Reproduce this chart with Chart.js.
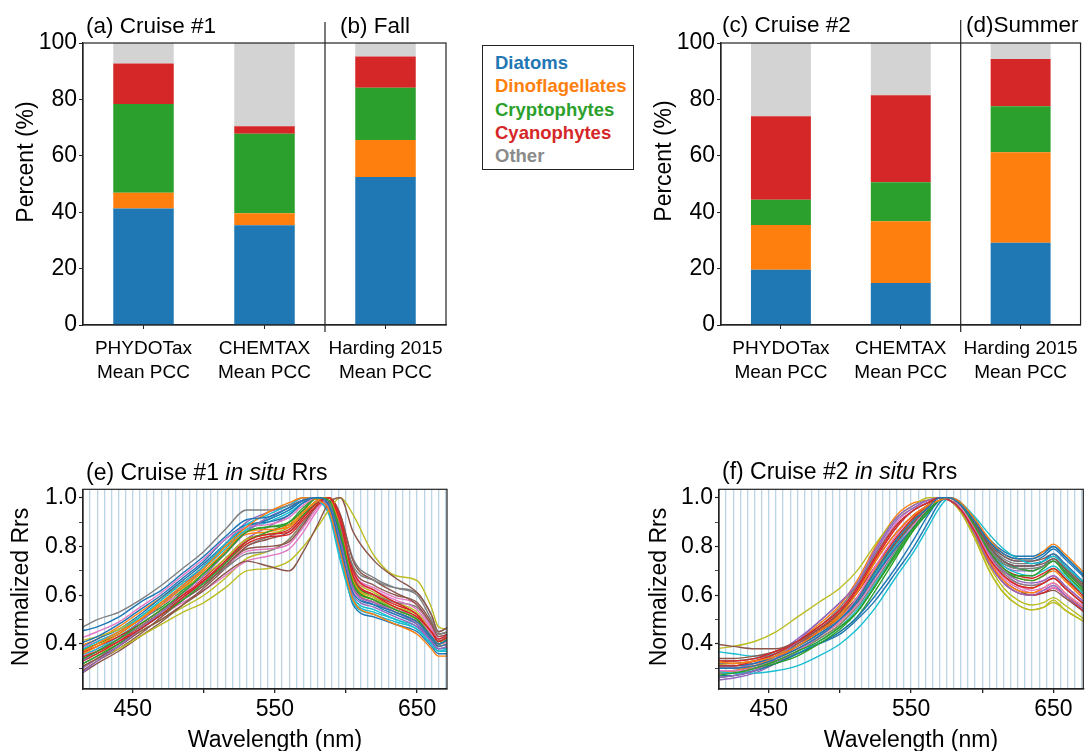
<!DOCTYPE html>
<html>
<head>
<meta charset="utf-8">
<script src="https://cdn.jsdelivr.net/npm/chart.js@4.4.1/dist/chart.umd.min.js"></script>
<style>
    body { margin: 0; background: #fff; width: 1086px; height: 751px; position: relative; overflow: hidden; font-family: "Liberation Sans", Arial, sans-serif; }
    canvas { position: absolute; }
    #legend { position: absolute; left: 482px; top: 45px; width: 152px; height: 125px; border: 1px solid #222; padding: 5px 0 0 12px; box-sizing: border-box; }
    #legend div { font-weight: bold; font-size: 18.5px; line-height: 23.3px; white-space: nowrap; }
</style>
</head>
<body>
<canvas id="cruise1" width="470" height="400" style="left:0;top:0"></canvas>
<canvas id="cruise2" width="446" height="400" style="left:640px;top:0"></canvas>
<canvas id="rrs1" width="470" height="301" style="left:0;top:450px"></canvas>
<canvas id="rrs2" width="446" height="301" style="left:640px;top:450px"></canvas>
<div id="legend"></div>
<script>
// stacked bars, percent of total
const barCategories = [["PHYDOTax", "Mean PCC"], ["CHEMTAX", "Mean PCC"], ["Harding 2015", "Mean PCC"]];
const groupNames = ["Diatoms", "Dinoflagellates", "Cryptophytes", "Cyanophytes", "Other"];

const cruise1Diatoms = [41.3, 35.4, 52.5];
const cruise1Dinoflagellates = [5.6, 4.2, 13.1];
const cruise1Cryptophytes = [31.5, 28.2, 18.5];
const cruise1Cyanophytes = [14.3, 2.7, 11.1];
const cruise1Other = [7.3, 29.5, 4.8];

const cruise2Diatoms = [19.6, 14.9, 29.2];
const cruise2Dinoflagellates = [15.9, 21.9, 32.1];
const cruise2Cryptophytes = [8.9, 13.8, 16.3];
const cruise2Cyanophytes = [29.6, 30.9, 16.7];
const cruise2Other = [26.0, 18.5, 5.7];

const percentTicks = [0, 20, 40, 60, 80, 100];
const wavelengthLabels = [450, 550, 650];
const rrsTickLabels = [0.4, 0.6, 0.8, 1.0];

// normalized Rrs spectra
const cruise1Wavelengths = [412, 425, 440, 455, 470, 485, 500, 515, 530, 545, 560, 570, 580, 588, 596, 605, 620, 635, 650, 660, 665, 672];
const cruise1Rrs = [
    [0.45, 0.47, 0.51, 0.57, 0.62, 0.69, 0.76, 0.84, 0.91, 0.92, 0.96, 0.99, 1.00, 0.97, 0.80, 0.61, 0.56, 0.53, 0.49, 0.43, 0.40, 0.42],
    [0.36, 0.40, 0.45, 0.50, 0.57, 0.64, 0.71, 0.80, 0.88, 0.94, 0.98, 1.00, 0.99, 0.95, 0.78, 0.58, 0.52, 0.48, 0.44, 0.38, 0.35, 0.35],
    [0.33, 0.37, 0.42, 0.48, 0.54, 0.61, 0.69, 0.77, 0.86, 0.88, 0.90, 0.95, 1.00, 0.99, 0.86, 0.65, 0.58, 0.54, 0.50, 0.43, 0.40, 0.42],
    [0.34, 0.37, 0.41, 0.46, 0.52, 0.59, 0.66, 0.74, 0.82, 0.85, 0.86, 0.92, 0.98, 1.00, 0.90, 0.68, 0.60, 0.55, 0.51, 0.45, 0.41, 0.43],
    [0.27, 0.33, 0.39, 0.46, 0.53, 0.61, 0.68, 0.77, 0.86, 0.92, 0.96, 0.99, 1.00, 0.96, 0.82, 0.63, 0.57, 0.53, 0.48, 0.41, 0.38, 0.39],
    [0.30, 0.34, 0.39, 0.45, 0.50, 0.56, 0.62, 0.69, 0.74, 0.72, 0.70, 0.78, 0.89, 0.98, 1.00, 0.86, 0.74, 0.67, 0.61, 0.52, 0.45, 0.47],
    [0.42, 0.45, 0.49, 0.55, 0.61, 0.68, 0.75, 0.83, 0.88, 0.89, 0.92, 0.97, 1.00, 0.97, 0.81, 0.62, 0.57, 0.54, 0.51, 0.44, 0.40, 0.41],
    [0.46, 0.50, 0.53, 0.58, 0.64, 0.71, 0.78, 0.87, 0.95, 0.95, 0.97, 0.99, 1.00, 0.98, 0.88, 0.72, 0.66, 0.63, 0.61, 0.52, 0.45, 0.47],
    [0.30, 0.34, 0.38, 0.43, 0.48, 0.53, 0.57, 0.63, 0.70, 0.71, 0.74, 0.80, 0.88, 0.95, 1.00, 0.93, 0.76, 0.68, 0.66, 0.55, 0.47, 0.46],
    [0.37, 0.41, 0.45, 0.51, 0.58, 0.65, 0.72, 0.81, 0.89, 0.93, 0.97, 1.00, 0.99, 0.93, 0.74, 0.57, 0.52, 0.49, 0.46, 0.40, 0.37, 0.38],
    [0.40, 0.43, 0.48, 0.54, 0.60, 0.67, 0.74, 0.83, 0.89, 0.90, 0.93, 0.98, 1.00, 0.98, 0.83, 0.63, 0.56, 0.52, 0.48, 0.42, 0.39, 0.40],
    [0.35, 0.39, 0.44, 0.50, 0.56, 0.63, 0.70, 0.78, 0.86, 0.87, 0.88, 0.94, 0.99, 1.00, 0.88, 0.66, 0.58, 0.54, 0.50, 0.43, 0.40, 0.41],
    [0.31, 0.35, 0.40, 0.46, 0.52, 0.58, 0.65, 0.73, 0.82, 0.86, 0.90, 0.96, 1.00, 0.98, 0.84, 0.64, 0.58, 0.54, 0.50, 0.44, 0.41, 0.43],
    [0.36, 0.39, 0.43, 0.48, 0.54, 0.60, 0.66, 0.73, 0.81, 0.84, 0.85, 0.91, 0.97, 1.00, 0.92, 0.70, 0.62, 0.57, 0.52, 0.45, 0.42, 0.44],
    [0.32, 0.37, 0.42, 0.49, 0.56, 0.64, 0.72, 0.81, 0.90, 0.94, 0.97, 1.00, 0.99, 0.94, 0.77, 0.60, 0.55, 0.51, 0.47, 0.41, 0.38, 0.39],
    [0.28, 0.33, 0.38, 0.44, 0.51, 0.58, 0.64, 0.72, 0.79, 0.80, 0.82, 0.89, 0.97, 1.00, 0.93, 0.74, 0.66, 0.61, 0.56, 0.48, 0.43, 0.44],
    [0.38, 0.41, 0.45, 0.50, 0.56, 0.61, 0.66, 0.72, 0.78, 0.79, 0.81, 0.88, 0.96, 1.00, 0.90, 0.69, 0.62, 0.58, 0.54, 0.46, 0.42, 0.43],
    [0.33, 0.37, 0.42, 0.47, 0.53, 0.59, 0.65, 0.71, 0.77, 0.78, 0.83, 0.90, 0.97, 1.00, 0.93, 0.75, 0.67, 0.63, 0.60, 0.50, 0.44, 0.45],
    [0.41, 0.43, 0.46, 0.51, 0.57, 0.63, 0.68, 0.75, 0.83, 0.85, 0.88, 0.94, 0.99, 1.00, 0.87, 0.66, 0.59, 0.55, 0.52, 0.45, 0.41, 0.42],
    [0.35, 0.38, 0.43, 0.49, 0.56, 0.63, 0.71, 0.80, 0.87, 0.90, 0.94, 0.98, 1.00, 0.95, 0.76, 0.58, 0.53, 0.50, 0.46, 0.40, 0.37, 0.37],
    [0.38, 0.42, 0.46, 0.52, 0.59, 0.66, 0.73, 0.81, 0.88, 0.91, 0.95, 0.99, 1.00, 0.96, 0.78, 0.56, 0.51, 0.48, 0.45, 0.39, 0.36, 0.36],
    [0.39, 0.42, 0.47, 0.53, 0.59, 0.65, 0.72, 0.80, 0.85, 0.86, 0.89, 0.95, 1.00, 0.99, 0.85, 0.64, 0.57, 0.53, 0.49, 0.43, 0.39, 0.40],
    [0.37, 0.40, 0.44, 0.50, 0.55, 0.62, 0.69, 0.78, 0.86, 0.88, 0.89, 0.93, 0.98, 1.00, 0.89, 0.67, 0.59, 0.55, 0.51, 0.44, 0.40, 0.42],
    [0.32, 0.36, 0.41, 0.47, 0.53, 0.60, 0.67, 0.75, 0.83, 0.85, 0.87, 0.93, 0.99, 1.00, 0.88, 0.67, 0.60, 0.56, 0.52, 0.44, 0.40, 0.42],
    [0.29, 0.34, 0.40, 0.46, 0.52, 0.59, 0.66, 0.74, 0.83, 0.88, 0.93, 0.98, 1.00, 0.97, 0.83, 0.63, 0.57, 0.53, 0.49, 0.42, 0.39, 0.40],
    [0.27, 0.32, 0.37, 0.43, 0.49, 0.56, 0.63, 0.71, 0.80, 0.83, 0.86, 0.92, 0.98, 1.00, 0.90, 0.71, 0.64, 0.60, 0.57, 0.49, 0.44, 0.45],
    [0.34, 0.38, 0.42, 0.47, 0.52, 0.57, 0.62, 0.68, 0.74, 0.76, 0.79, 0.86, 0.95, 1.00, 0.91, 0.70, 0.63, 0.59, 0.56, 0.47, 0.43, 0.44],
    [0.31, 0.35, 0.40, 0.46, 0.52, 0.58, 0.64, 0.72, 0.80, 0.84, 0.88, 0.94, 0.99, 1.00, 0.87, 0.66, 0.60, 0.57, 0.55, 0.47, 0.42, 0.43],
    [0.33, 0.36, 0.40, 0.45, 0.50, 0.55, 0.60, 0.67, 0.75, 0.78, 0.83, 0.90, 0.97, 1.00, 0.90, 0.69, 0.61, 0.57, 0.53, 0.45, 0.41, 0.43],
    [0.36, 0.40, 0.45, 0.51, 0.57, 0.64, 0.71, 0.79, 0.87, 0.91, 0.95, 0.99, 1.00, 0.96, 0.78, 0.59, 0.54, 0.50, 0.47, 0.41, 0.38, 0.38]
];

const cruise2Wavelengths = [412, 425, 440, 455, 470, 485, 500, 512, 525, 540, 552, 562, 570, 577, 585, 595, 605, 615, 625, 635, 643, 650, 658, 672];
const cruise2Rrs = [
    [0.30, 0.30, 0.31, 0.34, 0.38, 0.43, 0.50, 0.58, 0.70, 0.83, 0.91, 0.96, 1.00, 1.00, 0.97, 0.90, 0.82, 0.77, 0.75, 0.75, 0.77, 0.80, 0.76, 0.68],
    [0.33, 0.32, 0.33, 0.35, 0.39, 0.45, 0.52, 0.61, 0.74, 0.86, 0.93, 0.97, 0.99, 1.00, 0.98, 0.91, 0.83, 0.77, 0.75, 0.75, 0.78, 0.81, 0.77, 0.69],
    [0.27, 0.28, 0.30, 0.33, 0.37, 0.41, 0.47, 0.53, 0.64, 0.78, 0.88, 0.95, 0.99, 1.00, 0.97, 0.88, 0.78, 0.71, 0.68, 0.68, 0.71, 0.74, 0.70, 0.62],
    [0.31, 0.31, 0.33, 0.36, 0.41, 0.47, 0.54, 0.63, 0.76, 0.89, 0.95, 0.98, 1.00, 0.99, 0.95, 0.86, 0.75, 0.68, 0.64, 0.63, 0.65, 0.67, 0.63, 0.56],
    [0.26, 0.27, 0.29, 0.34, 0.41, 0.49, 0.57, 0.65, 0.79, 0.92, 0.97, 0.99, 1.00, 0.99, 0.95, 0.85, 0.73, 0.65, 0.61, 0.60, 0.62, 0.64, 0.60, 0.54],
    [0.40, 0.39, 0.38, 0.38, 0.41, 0.46, 0.53, 0.61, 0.74, 0.86, 0.93, 0.97, 1.00, 1.00, 0.97, 0.89, 0.80, 0.74, 0.72, 0.72, 0.73, 0.75, 0.71, 0.63],
    [0.29, 0.29, 0.30, 0.33, 0.37, 0.43, 0.50, 0.59, 0.72, 0.85, 0.93, 0.97, 1.00, 1.00, 0.96, 0.87, 0.76, 0.68, 0.64, 0.62, 0.63, 0.65, 0.61, 0.55],
    [0.32, 0.32, 0.33, 0.36, 0.41, 0.47, 0.55, 0.64, 0.77, 0.89, 0.95, 0.98, 1.00, 0.99, 0.96, 0.88, 0.79, 0.73, 0.71, 0.71, 0.72, 0.74, 0.70, 0.62],
    [0.38, 0.39, 0.41, 0.45, 0.51, 0.57, 0.63, 0.70, 0.81, 0.92, 0.97, 1.00, 1.00, 0.99, 0.94, 0.83, 0.70, 0.61, 0.56, 0.54, 0.55, 0.57, 0.54, 0.49],
    [0.29, 0.28, 0.28, 0.29, 0.31, 0.35, 0.40, 0.46, 0.55, 0.68, 0.78, 0.88, 0.96, 1.00, 0.98, 0.92, 0.85, 0.79, 0.75, 0.73, 0.74, 0.76, 0.72, 0.65],
    [0.31, 0.31, 0.32, 0.35, 0.39, 0.44, 0.50, 0.57, 0.68, 0.80, 0.88, 0.95, 0.99, 1.00, 0.97, 0.89, 0.80, 0.74, 0.72, 0.72, 0.74, 0.77, 0.73, 0.65],
    [0.28, 0.29, 0.31, 0.35, 0.41, 0.48, 0.56, 0.66, 0.80, 0.93, 0.98, 0.99, 1.00, 0.99, 0.95, 0.86, 0.74, 0.66, 0.62, 0.61, 0.63, 0.65, 0.61, 0.54],
    [0.29, 0.29, 0.30, 0.32, 0.35, 0.40, 0.46, 0.53, 0.64, 0.77, 0.87, 0.94, 0.99, 1.00, 0.97, 0.89, 0.79, 0.73, 0.71, 0.70, 0.72, 0.74, 0.69, 0.61],
    [0.33, 0.33, 0.34, 0.37, 0.41, 0.46, 0.53, 0.61, 0.72, 0.84, 0.92, 0.97, 1.00, 0.99, 0.96, 0.88, 0.78, 0.71, 0.68, 0.67, 0.69, 0.71, 0.67, 0.59],
    [0.30, 0.30, 0.32, 0.36, 0.42, 0.49, 0.57, 0.64, 0.78, 0.91, 0.96, 0.99, 1.00, 1.00, 0.96, 0.87, 0.77, 0.70, 0.66, 0.65, 0.66, 0.68, 0.64, 0.57],
    [0.34, 0.34, 0.35, 0.37, 0.41, 0.46, 0.52, 0.59, 0.70, 0.82, 0.90, 0.96, 1.00, 1.00, 0.97, 0.90, 0.81, 0.76, 0.74, 0.74, 0.75, 0.77, 0.72, 0.64],
    [0.31, 0.31, 0.32, 0.34, 0.38, 0.43, 0.49, 0.56, 0.67, 0.80, 0.89, 0.96, 1.00, 1.00, 0.96, 0.86, 0.75, 0.67, 0.63, 0.61, 0.62, 0.63, 0.60, 0.54],
    [0.28, 0.28, 0.30, 0.33, 0.37, 0.42, 0.48, 0.55, 0.66, 0.79, 0.88, 0.95, 0.99, 1.00, 0.96, 0.87, 0.76, 0.69, 0.65, 0.64, 0.65, 0.67, 0.63, 0.56],
    [0.30, 0.30, 0.31, 0.34, 0.38, 0.43, 0.50, 0.58, 0.70, 0.83, 0.92, 0.97, 1.00, 0.99, 0.94, 0.83, 0.70, 0.61, 0.56, 0.54, 0.55, 0.58, 0.54, 0.49],
    [0.37, 0.36, 0.35, 0.36, 0.39, 0.44, 0.50, 0.58, 0.69, 0.81, 0.90, 0.96, 1.00, 1.00, 0.97, 0.89, 0.79, 0.72, 0.69, 0.68, 0.70, 0.72, 0.68, 0.60],
    [0.27, 0.27, 0.29, 0.32, 0.36, 0.40, 0.45, 0.51, 0.60, 0.72, 0.83, 0.93, 0.99, 1.00, 0.98, 0.91, 0.82, 0.76, 0.74, 0.74, 0.76, 0.79, 0.75, 0.67],
    [0.32, 0.32, 0.33, 0.35, 0.39, 0.44, 0.51, 0.59, 0.71, 0.83, 0.91, 0.97, 1.00, 1.00, 0.96, 0.87, 0.76, 0.68, 0.64, 0.63, 0.65, 0.67, 0.63, 0.56],
    [0.26, 0.27, 0.29, 0.32, 0.36, 0.40, 0.45, 0.51, 0.62, 0.76, 0.87, 0.94, 0.99, 1.00, 0.97, 0.88, 0.77, 0.70, 0.67, 0.66, 0.68, 0.71, 0.67, 0.60],
    [0.29, 0.29, 0.31, 0.34, 0.39, 0.45, 0.53, 0.62, 0.75, 0.88, 0.95, 0.98, 1.00, 0.99, 0.95, 0.85, 0.73, 0.65, 0.61, 0.60, 0.61, 0.63, 0.60, 0.53],
    [0.25, 0.26, 0.28, 0.32, 0.37, 0.43, 0.50, 0.58, 0.70, 0.83, 0.92, 0.97, 1.00, 1.00, 0.96, 0.88, 0.78, 0.72, 0.70, 0.70, 0.72, 0.74, 0.70, 0.62],
    [0.31, 0.31, 0.32, 0.35, 0.40, 0.45, 0.51, 0.58, 0.69, 0.81, 0.90, 0.96, 1.00, 1.00, 0.96, 0.86, 0.74, 0.66, 0.62, 0.60, 0.61, 0.62, 0.59, 0.53],
    [0.30, 0.30, 0.31, 0.34, 0.40, 0.46, 0.54, 0.63, 0.77, 0.90, 0.96, 0.98, 1.00, 0.99, 0.95, 0.86, 0.75, 0.68, 0.65, 0.64, 0.66, 0.68, 0.64, 0.57],
    [0.33, 0.33, 0.34, 0.36, 0.40, 0.45, 0.51, 0.58, 0.69, 0.82, 0.91, 0.97, 1.00, 1.00, 0.97, 0.90, 0.81, 0.75, 0.73, 0.73, 0.74, 0.76, 0.72, 0.64],
    [0.32, 0.31, 0.31, 0.33, 0.37, 0.42, 0.48, 0.56, 0.68, 0.81, 0.90, 0.96, 1.00, 1.00, 0.95, 0.84, 0.72, 0.63, 0.58, 0.56, 0.57, 0.59, 0.56, 0.50],
    [0.28, 0.28, 0.29, 0.32, 0.36, 0.41, 0.47, 0.54, 0.65, 0.78, 0.88, 0.95, 0.99, 1.00, 0.97, 0.89, 0.80, 0.74, 0.71, 0.70, 0.72, 0.75, 0.71, 0.63],
    [0.29, 0.29, 0.30, 0.33, 0.36, 0.40, 0.44, 0.50, 0.58, 0.70, 0.80, 0.90, 0.98, 1.00, 0.98, 0.91, 0.83, 0.78, 0.76, 0.76, 0.78, 0.80, 0.76, 0.68],
    [0.31, 0.31, 0.32, 0.34, 0.38, 0.43, 0.49, 0.57, 0.69, 0.82, 0.91, 0.97, 1.00, 1.00, 0.97, 0.88, 0.77, 0.70, 0.67, 0.66, 0.68, 0.70, 0.66, 0.58]
];

const groupColors = ["#1f77b4", "#ff7f0e", "#2ca02c", "#d62728", "#d3d3d3"];
const legendColors = ["#1f77b4", "#ff7f0e", "#2ca02c", "#d62728", "#8a8a8a"];
const lineColors = ["#1f77b4", "#ff7f0e", "#2ca02c", "#d62728", "#9467bd", "#8c564b", "#e377c2", "#7f7f7f", "#bcbd22", "#17becf"];
const FONT = '"Liberation Sans", Arial, sans-serif';

Chart.defaults.font.family = FONT;
Chart.defaults.color = "#000";
Chart.defaults.animation = false;

// frame, divider and the free-standing texts
const decor = {
    id: "decor",
    afterDraw(chart, args, opts) {
        const {ctx, chartArea: a} = chart;
        ctx.save();
        ctx.strokeStyle = "#222";
        ctx.lineWidth = 1.2;
        ctx.strokeRect(a.left, a.top, a.right - a.left, a.bottom - a.top);
        if (opts.divider) {
            const x = chart.scales.x;
            const px = (x.getPixelForValue(1) + x.getPixelForValue(2)) / 2;
            ctx.beginPath();
            ctx.moveTo(px, opts.divider[0]);
            ctx.lineTo(px, opts.divider[1]);
            ctx.stroke();
        }
        ctx.fillStyle = "#000";
        ctx.textBaseline = "alphabetic";
        ctx.textAlign = "left";
        (opts.titles || []).forEach(t => {
            let x = t.x;
            t.parts.forEach(([s, italic]) => {
                ctx.font = (italic ? "italic " : "") + t.size + "px " + FONT;
                ctx.fillText(s, x, t.y);
                x += ctx.measureText(s).width;
            });
        });
        ctx.font = "23px " + FONT;
        ctx.textAlign = "center";
        if (opts.ylabel) {
            ctx.save();
            ctx.translate(opts.ylabel.x, opts.ylabel.y);
            ctx.rotate(-Math.PI / 2);
            ctx.textBaseline = "middle";
            ctx.fillText(opts.ylabel.text, 0, 0);
            ctx.restore();
        }
        if (opts.xlabel) {
            ctx.fillText(opts.xlabel.text, opts.xlabel.x, opts.xlabel.y);
        }
        ctx.restore();
    }
};

function barChart(id, values, padRight, yWidth, titles) {
    return new Chart(document.getElementById(id), {
        type: "bar",
        data: {
            labels: barCategories,
            datasets: groupNames.map((name, i) => ({
                label: name,
                data: values[i],
                backgroundColor: groupColors[i],
                borderWidth: 0,
                categoryPercentage: 1,
                barPercentage: 0.5,
            }))
        },
        options: {
            responsive: false,
            layout: {padding: {left: 0, top: 43, right: padRight, bottom: 0}},
            scales: {
                x: {
                    stacked: true,
                    grid: {drawOnChartArea: false, offset: false, tickLength: 4, tickColor: "#222"},
                    border: {color: "#222", width: 1.2},
                    ticks: {font: {size: 19, lineHeight: 1.24}, padding: 8, color: "#000"},
                    afterFit: scale => { scale.height = 75; }
                },
                y: {
                    stacked: true,
                    min: 0,
                    max: 100,
                    afterBuildTicks: scale => { scale.ticks = percentTicks.map(v => ({value: v})); },
                    grid: {drawOnChartArea: false, tickLength: 4, tickColor: "#222"},
                    border: {color: "#222", width: 1.2},
                    ticks: {font: {size: 23}, padding: 2, color: "#000"},
                    afterFit: scale => { scale.width = yWidth; }
                }
            },
            plugins: {
                legend: {display: false},
                tooltip: {enabled: false},
                decor: titles
            }
        },
        plugins: [decor]
    });
}

function rrsChart(id, wavelengths, spectra, padRight, yWidth, titles) {
    return new Chart(document.getElementById(id), {
        type: "line",
        data: {
            datasets: spectra.map((curve, i) => ({
                data: wavelengths.map((w, j) => ({x: w, y: curve[j]})),
                borderColor: lineColors[i % lineColors.length],
                borderWidth: 1.4,
                pointRadius: 0,
                cubicInterpolationMode: "monotone",
                fill: false,
            }))
        },
        options: {
            responsive: false,
            layout: {padding: {left: 0, top: 39.3, right: padRight, bottom: 0}},
            scales: {
                x: {
                    type: "linear",
                    min: 415,
                    max: 671,
                    ticks: {
                        stepSize: 5,
                        includeBounds: false,
                        autoSkip: false,
                        maxRotation: 0,
                        font: {size: 23},
                        padding: 3,
                        color: "#000",
                        callback: v => wavelengthLabels.includes(v) ? String(v) : ""
                    },
                    grid: {
                        color: "rgba(120,170,205,0.5)",
                        lineWidth: 1.3,
                        tickLength: 4,
                        tickColor: c => c.tick && c.tick.value % 50 === 0 ? "#222" : "rgba(0,0,0,0)"
                    },
                    border: {color: "#222", width: 1.2},
                    afterFit: scale => { scale.height = 62; }
                },
                y: {
                    min: 0.215,
                    max: 1.035,
                    ticks: {
                        stepSize: 0.1,
                        includeBounds: false,
                        autoSkip: false,
                        font: {size: 23},
                        padding: 2,
                        color: "#000",
                        callback: v => rrsTickLabels.some(t => Math.abs(t - v) < 1e-6) ? v.toFixed(1) : ""
                    },
                    grid: {
                        drawOnChartArea: false,
                        tickLength: 4,
                        tickColor: "#222",
                        tickWidth: c => c.tick && rrsTickLabels.some(t => Math.abs(t - c.tick.value) < 1e-6) ? 1.2 : 0.8
                    },
                    border: {color: "#222", width: 1.2},
                    afterFit: scale => { scale.width = yWidth; }
                }
            },
            plugins: {
                legend: {display: false},
                tooltip: {enabled: false},
                decor: titles
            }
        },
        plugins: [decor]
    });
}

barChart("cruise1",
    [cruise1Diatoms, cruise1Dinoflagellates, cruise1Cryptophytes, cruise1Cyanophytes, cruise1Other],
    24, 83, {
        divider: [22, 332],
        titles: [
            {x: 86, y: 33, size: 22.5, parts: [["(a) Cruise #1", false]]},
            {x: 340, y: 33, size: 22.5, parts: [["(b) Fall", false]]}
        ],
        ylabel: {text: "Percent (%)", x: 27, y: 162}
    });

barChart("cruise2",
    [cruise2Diatoms, cruise2Dinoflagellates, cruise2Cryptophytes, cruise2Cyanophytes, cruise2Other],
    2, 81, {
        divider: [20, 332],
        titles: [
            {x: 82, y: 32, size: 22.5, parts: [["(c) Cruise #2", false]]},
            {x: 326, y: 32, size: 22.5, parts: [["(d)Summer", false]]}
        ],
        ylabel: {text: "Percent (%)", x: 25, y: 161}
    });

rrsChart("rrs1", cruise1Wavelengths, cruise1Rrs, 23, 83, {
    titles: [{x: 86, y: 29.5, size: 23, parts: [["(e) Cruise #1 ", false], ["in situ", true], [" Rrs", false]]}],
    ylabel: {text: "Normalized Rrs", x: 22, y: 137},
    xlabel: {text: "Wavelength (nm)", x: 275, y: 296.5}
});

rrsChart("rrs2", cruise2Wavelengths, cruise2Rrs, 2.7, 79, {
    titles: [{x: 82, y: 29, size: 23, parts: [["(f) Cruise #2 ", false], ["in situ", true], [" Rrs", false]]}],
    ylabel: {text: "Normalized Rrs", x: 20, y: 137},
    xlabel: {text: "Wavelength (nm)", x: 271, y: 296.5}
});

// legend: plain coloured names in a box
const legend = document.getElementById("legend");
groupNames.forEach((name, i) => {
    const row = document.createElement("div");
    row.innerText = name;
    row.style.color = legendColors[i];
    legend.appendChild(row);
});
</script>
</body>
</html>
